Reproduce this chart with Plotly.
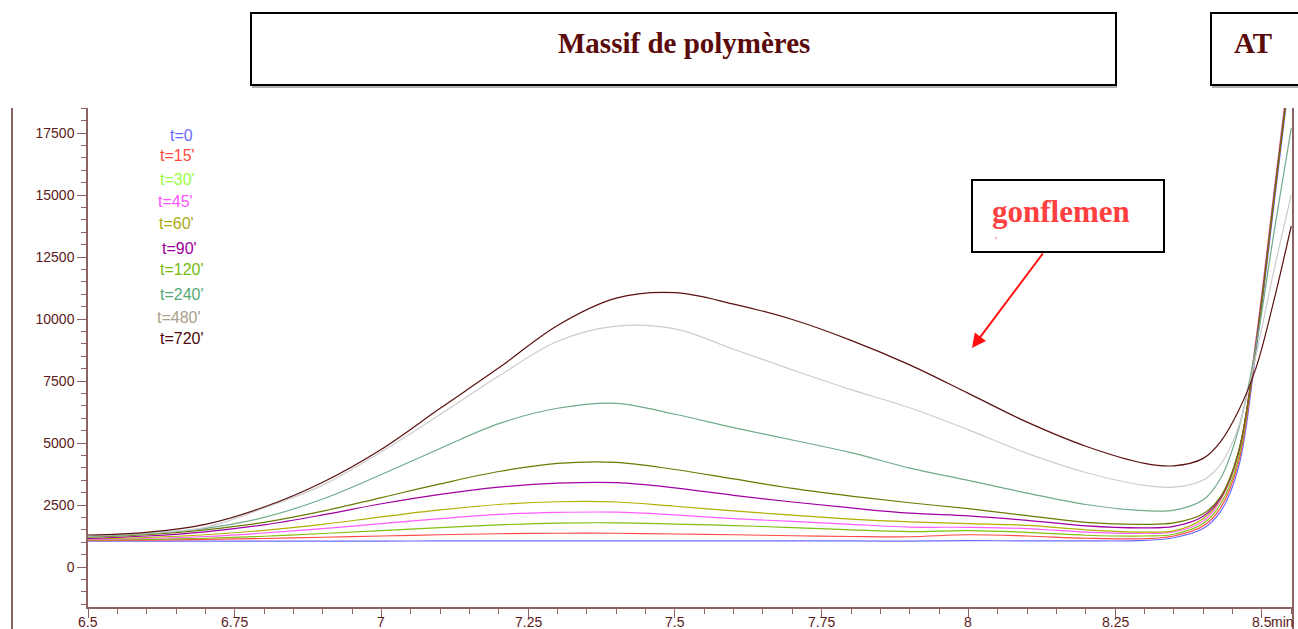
import plotly.graph_objects as go

# ---------------- data ----------------
x_min = [6.5, 6.6, 6.7, 6.8, 6.9, 7.0, 7.1, 7.2, 7.3, 7.4, 7.5, 7.6, 7.7, 7.8, 7.9,
         8.0, 8.1, 8.2, 8.3, 8.35, 8.4, 8.43, 8.46, 8.49, 8.52, 8.55]

series_names = ["t=0", "t=15'", "t=30'", "t=45'", "t=60'", "t=90'", "t=120'", "t=240'", "t=480'", "t=720'"]

t0 = [1040, 1040, 1040, 1040, 1045, 1045, 1050, 1050, 1050, 1050, 1050, 1050, 1050, 1050, 1045,
      1060, 1055, 1050, 1070, 1180, 1550, 2250, 4000, 8700, 14500, 20300]
t15 = [1060, 1080, 1110, 1150, 1200, 1250, 1300, 1340, 1360, 1360, 1330, 1300, 1260, 1230, 1220,
       1300, 1250, 1160, 1140, 1250, 1650, 2400, 4200, 8900, 14700, 20500]
t30 = [1080, 1110, 1160, 1240, 1350, 1470, 1590, 1700, 1770, 1780, 1730, 1670, 1590, 1500, 1430,
       1470, 1400, 1280, 1250, 1320, 1750, 2550, 4350, 9000, 14800, 20600]
t45 = [1100, 1150, 1230, 1370, 1550, 1750, 1950, 2120, 2200, 2210, 2100, 1950, 1840, 1720, 1610,
       1600, 1550, 1410, 1360, 1410, 1850, 2700, 4550, 9200, 15000, 20800]
t60 = [1130, 1190, 1300, 1480, 1720, 2020, 2300, 2520, 2630, 2620, 2450, 2260, 2090, 1930, 1820,
       1750, 1680, 1500, 1410, 1460, 1950, 2750, 4550, 9100, 14900, 20700]
t90 = [1150, 1250, 1420, 1700, 2100, 2550, 2930, 3220, 3380, 3400, 3190, 2890, 2620, 2380, 2170,
       2060, 1880, 1660, 1580, 1640, 2050, 2800, 4600, 9000, 14800, 20600]
t120 = [1200, 1300, 1500, 1800, 2250, 2800, 3350, 3850, 4180, 4220, 3930, 3550, 3170, 2860, 2590,
        2350, 2070, 1800, 1720, 1780, 2150, 2850, 4650, 8900, 14700, 20500]
t240 = [1220, 1340, 1560, 2000, 2740, 3730, 4780, 5780, 6400, 6600, 6160, 5620, 5120, 4610, 3990,
        3490, 2980, 2520, 2270, 2290, 2710, 3590, 5530, 8900, 13400, 17700]
t480 = [1250, 1370, 1600, 2380, 3300, 4650, 6150, 7700, 9100, 9710, 9600, 8780, 7950, 7150, 6420,
        5530, 4580, 3810, 3290, 3220, 3510, 4150, 5640, 8540, 11900, 15000]
t720 = [1290, 1400, 1720, 2420, 3420, 4750, 6400, 8030, 9740, 10840, 11060, 10600, 9980, 9140, 8150,
        7000, 5840, 4870, 4180, 4080, 4380, 5070, 6290, 8030, 10700, 13750]

series_values = [t0, t15, t30, t45, t60, t90, t120, t240, t480, t720]

line_colors = ["#6a6aff", "#ff4a4a", "#80c010", "#ff5cff", "#b0b000", "#a000a0",
               "#6a7a00", "#70aa88", "#cccccc", "#5a1010"]
label_colors = ["#6a6aff", "#ff4a3a", "#99ff44", "#ff55ff", "#aaaa10", "#990099",
                "#77bb11", "#55aa77", "#aaa08a", "#4a0808"]

x_tick_vals = [6.5, 6.75, 7.0, 7.25, 7.5, 7.75, 8.0, 8.25, 8.5]
x_tick_text = ["6.5", "6.75", "7", "7.25", "7.5", "7.75", "8", "8.25", "8.5"]
y_tick_vals = [0, 2500, 5000, 7500, 10000, 12500, 15000, 17500]
y_tick_text = ["0", "2500", "5000", "7500", "10000", "12500", "15000", "17500"]

title_text = "Massif de polymères"
side_text = "AT"
note_text = "gonflemen"
x_unit = "min"

# ---------------- layout geometry (pixels) ----------------
W, H = 1298, 629
L, R, T, B = 88, 1293, 108, 607


def px(x):
    return (x - L) / (R - L)


def py(y):
    return (B - y) / (B - T)


AXC = "#8c6262"
TXC = "#5a1a1a"
SERIF = "Liberation Serif, Times New Roman, serif"
SANS = "Liberation Sans, Arial, sans-serif"

fig = go.Figure()
for name, vals, col in zip(series_names, series_values, line_colors):
    fig.add_trace(go.Scatter(x=x_min, y=vals, mode="lines", name=name,
                             line=dict(color=col, width=1.2, shape="spline", smoothing=1.0),
                             showlegend=False, hoverinfo="skip"))

shapes = []
# outer vertical lines
shapes.append(dict(type="line", xref="paper", yref="paper", x0=px(12), x1=px(12), y0=py(108), y1=py(629),
                   line=dict(color=AXC, width=2)))
shapes.append(dict(type="line", xref="paper", yref="paper", x0=px(1293), x1=px(1293), y0=py(108), y1=py(629),
                   line=dict(color=AXC, width=2)))
# title boxes with slight shadow
for (x0, x1, y0, y1) in [(251, 1116, 13, 85), (1211, 1310, 13, 85)]:
    shapes.append(dict(type="line", xref="paper", yref="paper", x0=px(x0 + 1), x1=px(x1 + 1),
                       y0=py(y1 + 2), y1=py(y1 + 2), line=dict(color="#b0b0b0", width=2)))
    shapes.append(dict(type="rect", xref="paper", yref="paper", x0=px(x0), x1=px(x1), y0=py(y1), y1=py(y0),
                       line=dict(color="black", width=2), fillcolor="rgba(0,0,0,0)"))
# gonflement box
shapes.append(dict(type="rect", xref="paper", yref="paper", x0=px(972), x1=px(1164), y0=py(252), y1=py(180),
                   line=dict(color="black", width=2), fillcolor="white", layer="above"))

annotations = []
annotations.append(dict(xref="paper", yref="paper", x=px(684), y=py(43), text="<b>" + title_text + "</b>",
                        showarrow=False, xanchor="center", yanchor="middle",
                        font=dict(family=SERIF, size=29, color="#5a0a0a")))
annotations.append(dict(xref="paper", yref="paper", x=px(1232), y=py(43), text="<b>" + side_text + "</b>",
                        showarrow=False, xanchor="left", yanchor="middle",
                        font=dict(family=SERIF, size=29, color="#5a0a0a")))
annotations.append(dict(xref="paper", yref="paper", x=px(990), y=py(211), text="<b>" + note_text + "</b>",
                        showarrow=False, xanchor="left", yanchor="middle",
                        font=dict(family=SERIF, size=31, color="#ff4040")))
annotations.append(dict(xref="paper", yref="paper", x=px(996), y=py(240), text="'",
                        showarrow=False, xanchor="center", yanchor="middle",
                        font=dict(family=SERIF, size=11, color="#ff4040")))
# arrow
annotations.append(dict(xref="paper", yref="paper", x=px(972), y=py(348), ax=1044 - 972, ay=252 - 348,
                        axref="pixel", ayref="pixel", text="", showarrow=True, arrowhead=2,
                        arrowsize=1.4, arrowwidth=2, arrowcolor="#ff1010"))
# series labels
label_pos = [(181, 135), (177, 155), (177, 179), (175, 201), (176, 223),
             (179, 249), (182, 269), (182, 294), (179, 317), (182, 338)]
for name, col, (lx, ly) in zip(series_names, label_colors, label_pos):
    annotations.append(dict(xref="paper", yref="paper", x=px(lx), y=py(ly), text=name, showarrow=False,
                            xanchor="center", yanchor="middle",
                            font=dict(family=SANS, size=16, color=col)))
# x tick labels placed at the axis' own data positions (kept inside the page)
for v, t in zip(x_tick_vals, x_tick_text):
    annotations.append(dict(xref="x", yref="paper", x=v, y=py(622), text=t, showarrow=False,
                            xanchor="center", yanchor="middle", borderpad=0,
                            font=dict(family=SANS, size=14, color=TXC)))
annotations.append(dict(xref="x", yref="paper", x=x_tick_vals[-1], y=py(622), text=x_unit, showarrow=False,
                        xanchor="left", yanchor="middle", xshift=8, borderpad=0,
                        font=dict(family=SANS, size=14, color=TXC)))

fig.update_layout(
    width=W, height=H,
    margin=dict(l=L, r=W - R, t=T, b=H - B, pad=0),
    paper_bgcolor="white", plot_bgcolor="white",
    shapes=shapes, annotations=annotations,
    font=dict(family=SANS, size=14, color=TXC),
)
fig.update_xaxes(range=[6.5, 8.553], tickmode="array", tickvals=x_tick_vals, ticktext=x_tick_text,
                 showticklabels=False, automargin=False,
                 showgrid=False, zeroline=False, showline=True, linecolor=AXC, linewidth=1.5,
                 ticks="outside", ticklen=9, tickwidth=1.2, tickcolor=AXC,
                 minor=dict(tick0=6.5, dtick=0.05, ticks="outside", ticklen=5, tickcolor=AXC, tickwidth=1,
                            showgrid=False))
fig.update_yaxes(range=[-1613, 18508], tickmode="array", tickvals=y_tick_vals, ticktext=y_tick_text,
                 automargin=False,
                 showgrid=False, zeroline=False, showline=True, linecolor=AXC, linewidth=1.5,
                 ticks="outside", ticklen=9, tickwidth=1.2, tickcolor=AXC,
                 tickfont=dict(family=SANS, size=14, color=TXC),
                 minor=dict(tick0=0, dtick=500, ticks="outside", ticklen=5, tickcolor=AXC, tickwidth=1,
                            showgrid=False))

fig.write_html("out.html", config={"displayModeBar": False},
               post_script="document.body.style.margin='0';")
